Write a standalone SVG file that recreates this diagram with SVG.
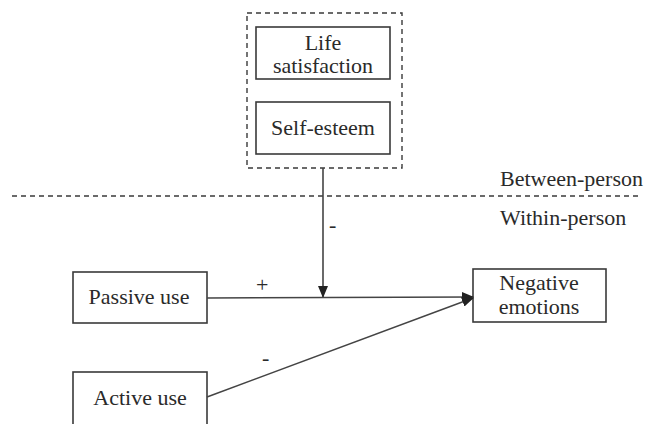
<svg xmlns="http://www.w3.org/2000/svg" width="654" height="424" viewBox="0 0 654 424">
<style>
.box{fill:#fff;stroke:#3a3a3a;stroke-width:1.6}
.dash{fill:none;stroke:#3a3a3a;stroke-width:1.4;stroke-dasharray:5,4}
.ln{fill:none;stroke:#444;stroke-width:1.6}
text{font-family:'Liberation Serif','Times New Roman','DejaVu Serif',serif;font-size:22px;fill:#2a2a2a}
.c{text-anchor:middle}
</style>
<defs>
<marker id="ah" markerWidth="12" markerHeight="10" refX="11" refY="5" orient="auto" markerUnits="userSpaceOnUse">
<path d="M0,0 L12,5 L0,10 Z" fill="#222"/>
</marker>
</defs>
<rect width="654" height="424" fill="#fff"/>
<g id="moderators">
<rect class="dash" x="247" y="13" width="155" height="155"/>
</g>
<g id="life">
<rect class="box" x="256" y="27" width="134" height="52"/>
<text class="c" x="323" y="50">Life</text>
<text class="c" x="323" y="73">satisfaction</text>
</g>
<g id="self">
<rect class="box" x="256" y="102" width="134" height="52"/>
<text class="c" x="323" y="135">Self-esteem</text>
</g>
<g id="levels">
<line class="dash" x1="12" y1="196" x2="642" y2="196"/>
<text x="500" y="186">Between-person</text>
<text x="500" y="225">Within-person</text>
</g>
<g id="passive">
<rect class="box" x="73" y="272" width="134" height="51"/>
<text class="c" x="139" y="304">Passive use</text>
</g>
<g id="active">
<rect class="box" x="73" y="372" width="134" height="60"/>
<text class="c" x="140" y="405">Active use</text>
</g>
<g id="negative">
<rect class="box" x="473" y="269" width="133" height="53"/>
<text class="c" x="539" y="290">Negative</text>
<text class="c" x="539" y="314">emotions</text>
</g>
<g id="connectors">
<line class="ln" x1="323" y1="168" x2="323" y2="297" marker-end="url(#ah)"/>
<line class="ln" x1="207" y1="298" x2="473" y2="297" marker-end="url(#ah)"/>
<line class="ln" x1="207" y1="397" x2="473" y2="298" marker-end="url(#ah)"/>
<text x="329" y="232">-</text>
<text x="256" y="292">+</text>
<text x="262" y="365">-</text>
</g>
</svg>
